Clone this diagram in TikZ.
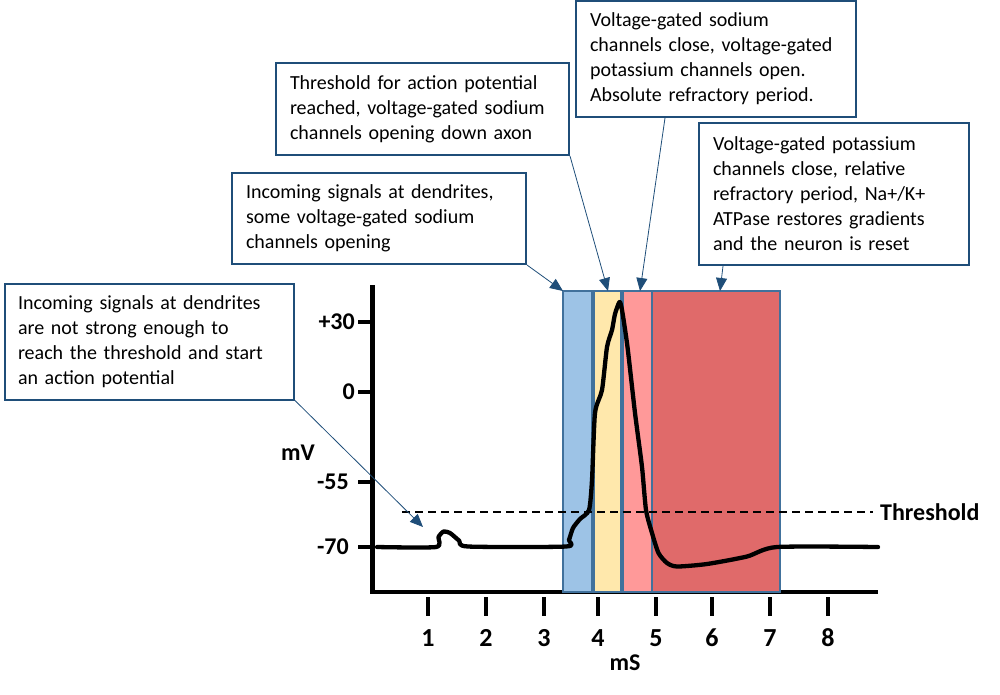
\documentclass[tikz,border=0pt]{standalone}
\usepackage{fontspec}
\setmainfont{Carlito}
\usetikzlibrary{arrows.meta}
\definecolor{boxblue}{HTML}{1F4E79}
\definecolor{rectedge}{HTML}{41719C}
\definecolor{phaseblue}{HTML}{9DC3E6}
\definecolor{phaseyellow}{HTML}{FFE8AC}
\definecolor{phasepink}{HTML}{FF9999}
\definecolor{phasered}{HTML}{E06A6A}
\tikzset{
  note/.style={draw=boxblue, line width=2pt, fill=white, inner sep=0pt,
    align=left, font=\fontsize{20}{25}\selectfont},
  pointer/.style={draw=boxblue, line width=0.8pt, -{Triangle[length=13pt,width=11pt]}},
  axis/.style={line width=4.5pt, line cap=butt},
  tick/.style={line width=4pt},
  axlabel/.style={font=\fontsize{24}{26}\selectfont\bfseries, inner sep=0pt},
  xlabel/.style={font=\fontsize{26}{28}\selectfont\bfseries, inner sep=0pt, anchor=base},
  phase/.style={draw=rectedge, line width=2pt},
  trace/.style={line width=4.3pt, line join=round, line cap=round},
}
\begin{document}
\begin{tikzpicture}[x=1pt,y=-1pt]
\useasboundingbox (0,0) rectangle (1000,694);
% axes
\draw[axis] (372.5,285) -- (372.5,594);
\draw[axis] (370.25,592) -- (878,592);
% y ticks
\foreach \yy/\lab/\xe in {322/{+30}/355, 392/{0}/355, 482/{-55}/349, 547/{-70}/349}{
  \draw[tick] (358,\yy) -- (372.5,\yy);
  \node[axlabel, anchor=east] (yl\yy) at (\xe,\yy) {\lab};
}
\node[axlabel] (mv) at (298,453) {mV};
% x ticks
\foreach \xx/\lab in {428/1, 486/2, 544/3, 598/4, 656/5, 712/6, 770/7, 828/8}{
  \draw[tick] (\xx,597) -- (\xx,616);
  \node[xlabel] (xl\lab) at (\xx,646) {\lab};
}
\node[axlabel] (ms) at (625,663) {mS};
% phase rectangles
\draw[phase, fill=phaseblue] (563,291) rectangle (592,592);
\draw[phase, fill=phaseyellow] (594,291) rectangle (621,592);
\draw[phase, fill=phasepink] (623,291) rectangle (652,592);
\draw[phase, fill=phasered] (652,291) rectangle (780,592);
\coordinate (pB) at (563,291);
\coordinate (pC) at (608,291);
\coordinate (pD) at (640,291);
\coordinate (pE) at (720,291);
% threshold
\draw[line width=1.5pt, dash pattern=on 8pt off 5pt] (402,512) -- (873,512);
\node[axlabel, anchor=west] (thr) at (880,512) {Threshold};
% trace
\draw[trace] plot[smooth, tension=0.4] coordinates {
 (377,547) (436,547) (438.5,537) (443.5,531.5) (450,533) (459,540.5) (468,546.5) (566,546.5)
 (569,540) (573,528) (580,519) (589,510) (592,480) (595,413) (602,390) (607,347)
 (612,330) (615,314) (619.5,302) (622,310) (627.5,347) (635,413) (642,467)
 (646,510) (652,533) (658.5,553) (667,563) (677,566.5) (707,564) (747,556.5)
 (777,547) (878,547)};
% notes
\node[note, minimum width=289pt, minimum height=116pt, text width=263pt] (A) at (149.5,341.5)
 {Incoming signals at dendrites\\are not strong enough to\\reach the threshold and start\\an action potential};
\node[note, minimum width=294pt, minimum height=91pt, text width=266pt] (B) at (379,218.5)
 {Incoming signals at dendrites,\\some voltage-gated sodium\\channels opening};
\node[note, minimum width=293pt, minimum height=92pt, text width=265pt] (C) at (422.5,109)
 {Threshold for action potential\\reached, voltage-gated sodium\\channels opening down axon};
\node[note, minimum width=280pt, minimum height=116pt, text width=252pt] (D) at (716,59)
 {Voltage-gated sodium\\channels close, voltage-gated\\potassium channels open.\\Absolute refractory period.};
\node[note, minimum width=270pt, minimum height=142pt, text width=242pt] (E) at (834,194)
 {Voltage-gated potassium\\channels close, relative\\refractory period, Na+/K+\\ATPase restores gradients\\and the neuron is reset};
\coordinate (aA) at (423,527);
% pointers
\draw[pointer] (A.south east) -- (aA);
\draw[pointer] (B.south east) -- (pB);
\draw[pointer] (C.south east) -- (pC);
\draw[pointer] ([xshift=-51pt]D.south) -- (pD);
\draw[pointer] ([xshift=-111pt]E.south) -- (pE);
\end{tikzpicture}
\end{document}
